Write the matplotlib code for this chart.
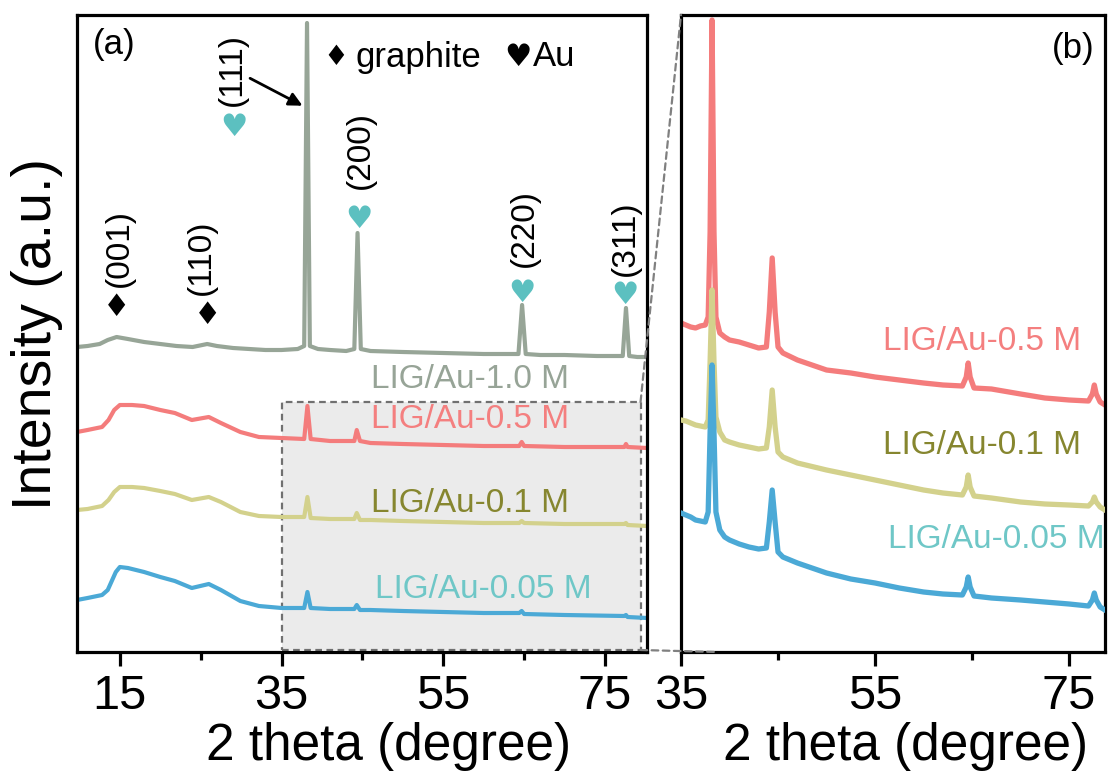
import matplotlib
matplotlib.use('Agg')
import matplotlib.pyplot as plt
from matplotlib.patches import Rectangle, ConnectionPatch
from matplotlib.ticker import MultipleLocator

plt.rcParams['font.family'] = ['Liberation Sans', 'DejaVu Sans']

# ---- panel (a): full scan, offsets already included ----
gray_x = [9.7, 11, 12.5, 13.5, 14.6, 16, 18, 20, 22, 24, 25.8, 27, 29, 31, 33, 35, 37, 37.8,
          38.15, 38.5, 39.5, 41, 43, 44.0, 44.4, 44.8, 46, 50, 55, 60, 64.3, 64.75, 65.2,
          67, 70, 74, 77.2, 77.6, 78.0, 79, 80.2]
gray_y = [305, 306, 308, 312, 315, 313, 310, 308, 306, 305, 308, 306, 304, 303, 302, 302, 303, 306,
          629, 306, 303, 302, 301, 303, 419, 303, 301, 300, 299, 298, 298, 347, 298,
          297, 297, 296, 296, 344, 296, 295, 295]

pink_x = [9.7, 11, 12.8, 13.6, 14.3, 15, 16.5, 18, 20, 21.8, 23.9, 26, 27.5, 29.9, 32.2, 35,
          37.8, 38.2, 38.6, 41, 44.0, 44.3, 44.7, 46, 50, 55, 60, 64.4, 64.7, 65.0, 70, 75,
          77.4, 77.6, 77.8, 80.2]
pink_y = [220, 222, 225, 232, 242, 247, 247, 246, 242, 239, 232, 235, 229, 220, 215, 214,
          213, 246, 213, 211, 211, 222, 211, 209, 208, 207, 206, 206, 210, 206, 205, 205,
          205, 208, 205, 204]

yell_x = [9.7, 11, 12.8, 13.6, 14.3, 15, 16.5, 18, 20, 21.8, 23.9, 26, 27.5, 29.9, 32.2, 35,
          37.8, 38.2, 38.6, 41, 44.0, 44.3, 44.7, 46, 50, 60, 64.4, 64.7, 65.0, 70, 77.4,
          77.6, 77.8, 80.2]
yell_y = [142, 143, 146, 152, 160, 165, 165, 164, 161, 158, 152, 155, 150, 140, 136, 135,
          135, 155, 134, 133, 133, 139, 132, 132, 131, 129, 129, 131, 129, 128, 128,
          129, 127, 126]

blue_x = [9.7, 11, 12.8, 13.5, 14.5, 15, 16, 18, 20, 21.8, 23.9, 26, 27.5, 29.9, 32.2, 35,
          37.8, 38.2, 38.6, 41, 44.0, 44.3, 44.7, 46, 50, 60, 64.4, 64.7, 65.0, 70, 77.4,
          77.6, 77.8, 80.2]
blue_y = [52, 54, 57, 62, 80, 85, 84, 80, 75, 71, 64, 68, 62, 51, 46, 44,
          44, 60, 44, 43, 43, 47, 42, 42, 41, 39, 39, 41, 38, 37, 36,
          37, 35, 34]

# ---- panel (b): zoom of 35-79 deg ----
zx = [35, 35.5, 36, 36.5, 37, 37.5, 37.8, 38.0, 38.2, 38.4, 38.6, 39.0, 39.5, 40, 41, 42, 43,
      43.8, 44.1, 44.4, 44.7, 45.0, 45.5, 47, 50, 52.5, 55, 57.5, 60, 62, 64.0, 64.4, 64.6,
      64.8, 65.2, 67, 70, 72.5, 75, 77.0, 77.4, 77.6, 77.8, 78.2, 78.7]
zpink = [329, 327, 325, 324, 326, 327, 335, 420, 632, 420, 335, 319, 315, 312, 310, 307, 304,
         305, 340, 394, 340, 305, 299, 292, 282, 279, 275, 272, 269, 267, 266, 275, 289,
         275, 264, 263, 258, 254, 252, 251, 258, 267, 258, 250, 247]
zyell = [232, 231, 229, 227, 226, 225, 232, 290, 362, 290, 235, 220, 212, 210, 207, 205, 203,
         204, 225, 262, 225, 200, 195, 189, 182, 177, 172, 167, 162, 159, 157, 165, 177,
         165, 156, 154, 150, 148, 147, 146, 150, 155, 150, 145, 142]
zblue = [139, 137, 135, 132, 131, 130, 140, 220, 287, 220, 140, 122, 115, 112, 108, 105, 103,
         104, 130, 162, 130, 100, 95, 89, 79, 73, 69, 64, 60, 58, 57, 65, 75,
         65, 56, 54, 52, 50, 48, 46, 52, 59, 52, 45, 42]

samples = ['LIG/Au-1.0 M', 'LIG/Au-0.5 M', 'LIG/Au-0.1 M', 'LIG/Au-0.05 M']
line_cols = ['#97a597', '#f47c7c', '#d3d18c', '#4ba9d6']
text_cols = ['#97a497', '#f47f7f', '#86862f', '#6fc7c7']
heart_col = '#5cc0c0'

au_peaks = ['(111)', '(200)', '(220)', '(311)']
au_heart_pos = [(29.1, 525), (44.6, 432), (64.75, 359), (77.5, 357)]
au_label_pos = [(28.9, 582), (44.7, 502), (65.0, 424), (77.5, 414)]
c_peaks = ['(001)', '(110)']
c_diam_pos = [(14.6, 345), (25.8, 337)]
c_label_pos = [(14.9, 404), (25.1, 395)]

fig = plt.figure(figsize=(11.1, 7.76), dpi=100)
ax1 = fig.add_axes([77/1110, 124/776, 570/1110, 637/776])
ax2 = fig.add_axes([681/1110, 124/776, 424/1110, 637/776])

for ax in (ax1, ax2):
    for s in ax.spines.values():
        s.set_linewidth(2.3)
    ax.set_yticks([])
    ax.set_ylim(0, 637)
    ax.tick_params(axis='x', which='major', direction='out', length=10, width=2.3,
                   labelsize=35, pad=6)
    ax.tick_params(axis='x', which='minor', direction='out', length=6, width=2.3)
    ax.xaxis.set_major_locator(MultipleLocator(20))
    ax.xaxis.set_minor_locator(MultipleLocator(10))
    ax.set_xlabel('2 theta (degree)', fontsize=37)

ax1.set_xlim(9.7, 80.2)
ax1.set_xticks([15, 35, 55, 75])
ax1.set_xticks([25, 45, 65], minor=True)
ax2.set_xlim(35, 78.7)
ax2.set_xticks([35, 55, 75])
ax2.set_xticks([45, 65], minor=True)

ax1.xaxis.set_label_coords(0.546, -0.11)
ax2.xaxis.set_label_coords(0.53, -0.11)
ax1.set_ylabel('Intensity (a.u.)', fontsize=40)
ax1.yaxis.set_label_coords(-0.025, 0.5)

# panel (a)
box = Rectangle((35, 2), 79.4 - 35, 248, facecolor='#ebebeb', edgecolor='#707070',
                linestyle=(0, (3, 2)), linewidth=1.6, zorder=0)
ax1.add_patch(box)
for xs, ys, c in zip([gray_x, pink_x, yell_x, blue_x], [gray_y, pink_y, yell_y, blue_y], line_cols):
    ax1.plot(xs, ys, color=c, lw=3, solid_joinstyle='round', zorder=2)

ax1.text(58.3, 272, samples[0], color=text_cols[0], fontsize=24, ha='center', va='center')
ax1.text(58.3, 232, samples[1], color=text_cols[1], fontsize=24, ha='center', va='center')
ax1.text(58.3, 149, samples[2], color=text_cols[2], fontsize=24, ha='center', va='center')
ax1.text(60.0, 62, samples[3], color=text_cols[3], fontsize=24, ha='center', va='center')

for (x, y) in au_heart_pos:
    ax1.text(x, y, '\u2665', color=heart_col, fontsize=22, ha='center', va='center',
             family='DejaVu Sans')
for lab, (x, y) in zip(au_peaks, au_label_pos):
    ax1.text(x, y, lab, rotation=90, fontsize=24, ha='center', va='center')
for (x, y) in c_diam_pos:
    ax1.text(x, y, '\u2666', color='black', fontsize=22, ha='center', va='center',
             family='DejaVu Sans')
for lab, (x, y) in zip(c_peaks, c_label_pos):
    ax1.text(x, y, lab, rotation=90, fontsize=24, ha='center', va='center')

ax1.annotate('', xy=(37.9, 545), xytext=(30.8, 575),
             arrowprops=dict(arrowstyle='-|>', color='black', lw=2, mutation_scale=20))

ax1.text(41.7, 595, '\u2666', fontsize=20, ha='center', va='center', family='DejaVu Sans')
ax1.text(44.1, 595, 'graphite', fontsize=25, ha='left', va='center')
ax1.text(64.3, 595, '\u2665', fontsize=22, ha='center', va='center', family='DejaVu Sans')
ax1.text(66.1, 595, 'Au', fontsize=25, ha='left', va='center')
ax1.text(0.028, 0.953, '(a)', transform=ax1.transAxes, fontsize=25, ha='left', va='center')

# panel (b)
ax2.plot(zx, zpink, color=line_cols[1], lw=3.8, solid_joinstyle='round', zorder=2)
ax2.plot(zx, zyell, color=line_cols[2], lw=3.8, solid_joinstyle='round', zorder=3)
ax2.plot(zx, zblue, color=line_cols[3], lw=3.8, solid_joinstyle='round', zorder=4)
ax2.text(66.0, 310, samples[1], color=text_cols[1], fontsize=24, ha='center', va='center')
ax2.text(66.0, 207, samples[2], color=text_cols[2], fontsize=24, ha='center', va='center')
ax2.text(67.5, 112, samples[3], color=text_cols[3], fontsize=24, ha='center', va='center')
ax2.text(0.925, 0.947, '(b)', transform=ax2.transAxes, fontsize=25, ha='center', va='center')

# dashed connectors between the box and the zoom panel
con1 = ConnectionPatch(xyA=(79.4, 250), coordsA=ax1.transData, xyB=(0, 1), coordsB=ax2.transAxes,
                       color='#808080', linestyle=(0, (3, 2)), lw=1.6)
con2 = ConnectionPatch(xyA=(79.4, 2), coordsA=ax1.transData, xyB=(0.085, 0), coordsB=ax2.transAxes,
                       color='#808080', linestyle=(0, (3, 2)), lw=1.6)
fig.add_artist(con1)
fig.add_artist(con2)

fig.savefig('out.png', dpi=100)
